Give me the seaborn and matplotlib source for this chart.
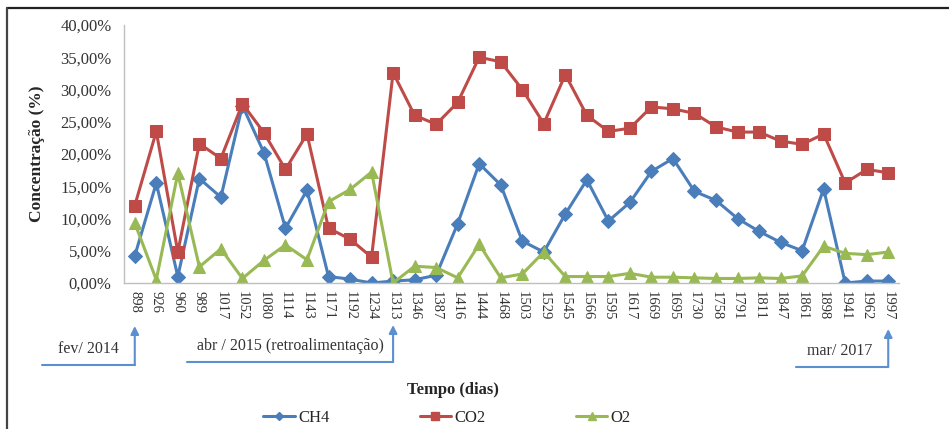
import matplotlib
matplotlib.use("Agg")
import matplotlib.pyplot as plt
import matplotlib.transforms as mtransforms
from matplotlib.lines import Line2D
import seaborn as sns
import pandas as pd
import numpy as np

days = ["898", "926", "960", "989", "1017", "1052", "1080", "1114", "1143", "1171",
        "1192", "1234", "1313", "1346", "1387", "1416", "1444", "1468", "1503", "1529",
        "1545", "1566", "1595", "1617", "1669", "1695", "1730", "1758", "1791", "1811",
        "1847", "1861", "1898", "1941", "1962", "1997"]

ch4 = [4.2, 15.5, 1.0, 16.2, 13.3, 27.5, 20.2, 8.5, 14.4, 1.0,
       0.6, 0.0, 0.3, 0.5, 1.2, 9.2, 18.5, 15.2, 6.5, 4.8,
       10.7, 16.0, 9.6, 12.5, 17.3, 19.3, 14.2, 12.8, 10.0, 8.0,
       6.3, 5.0, 14.6, 0.0, 0.3, 0.3]

co2 = [12.0, 23.5, 4.8, 21.6, 19.3, 27.8, 23.3, 17.6, 23.1, 8.5,
       6.8, 4.0, 32.6, 26.0, 24.6, 28.0, 35.0, 34.3, 30.0, 24.7,
       32.3, 26.0, 23.5, 24.0, 27.3, 27.0, 26.3, 24.2, 23.4, 23.4,
       22.0, 21.5, 23.1, 15.5, 17.6, 17.1]

o2 = [9.3, 0.5, 17.0, 2.5, 5.3, 0.7, 3.5, 5.9, 3.6, 12.6,
      14.5, 17.2, 0.0, 2.6, 2.4, 0.8, 6.0, 0.8, 1.4, 4.8,
      1.0, 1.0, 1.0, 1.5, 0.9, 0.9, 0.8, 0.7, 0.7, 0.8,
      0.7, 1.1, 5.7, 4.6, 4.4, 4.8]

yticks = [0, 5, 10, 15, 20, 25, 30, 35, 40]
ytick_labels = ["0,00%", "5,00%", "10,00%", "15,00%", "20,00%", "25,00%", "30,00%", "35,00%", "40,00%"]

annotations = [("fev/ 2014", "898"), ("abr / 2015 (retroalimentação)", "1313"), ("mar/ 2017", "1997")]

sns.set_theme(style="white")
plt.rcParams["font.family"] = ["Liberation Serif", "DejaVu Serif"]

series_names = ["CH4", "CO2", "O2"]
series_vals = [ch4, co2, o2]
colors = {"CH4": "#4A7EBB", "CO2": "#BE4B48", "O2": "#98B954"}
markers = {"CH4": "D", "CO2": "s", "O2": "^"}
msizes = {"CH4": 7, "CO2": 8, "O2": 8.5}

pos = np.arange(len(days))
df = pd.concat([pd.DataFrame({"pos": pos, "value": v, "gas": n})
                for n, v in zip(series_names, series_vals)], ignore_index=True)

fig = plt.figure(figsize=(9.49, 4.29), dpi=100)
ax = fig.add_axes([124 / 949, 1 - 283 / 429, (899 - 124) / 949, (283 - 25) / 429])

for n in series_names:
    sub = df[df["gas"] == n]
    sns.lineplot(data=sub, x="pos", y="value", ax=ax, color=colors[n], marker=markers[n],
                 markersize=msizes[n], markeredgecolor=colors[n], linewidth=2.2,
                 label=n, legend=False)

ax.set_xlim(-0.5, len(days) - 0.5)
ax.set_ylim(0, 40)
ax.set_yticks(yticks)
ax.set_yticklabels(ytick_labels, fontsize=12, color="#333333")
ax.set_xticks(pos)
ax.set_xticklabels(days, rotation=270, fontsize=10.5, color="#333333")
ax.tick_params(axis="both", length=3, width=0.8, color="#BFBFBF", pad=3)
ax.tick_params(axis="y", pad=6)
ax.set_xlabel("")
ax.set_ylabel("Concentração (%)", fontsize=12.5, fontweight="bold", labelpad=11)
for s in ["top", "right"]:
    ax.spines[s].set_visible(False)
for s in ["left", "bottom"]:
    ax.spines[s].set_color("#BFBFBF")
    ax.spines[s].set_linewidth(1.0)

fig.text(453 / 949, 1 - 390 / 429, "Tempo (dias)", fontsize=12, fontweight="bold",
         ha="center", va="center")

# annotation arrows (x from data, y in figure pixels)
trans = mtransforms.blended_transform_factory(ax.transData, fig.transFigure)
ann_geom = {"898": (42, 365, 326, 88, 349),
            "1313": (187, 362, 325, 290, 346),
            "1997": (796, 367, 329, 840, 351)}
arrow_color = "#5B8FD0"
for txt, day in annotations:
    idx = days.index(day)
    x0px, yline, ytop, xtxt, ytxt = ann_geom[day]
    x0 = ax.transData.inverted().transform((x0px, 0))[0]
    fy = lambda p: 1 - p / 429
    ax.plot([x0, idx], [fy(yline), fy(yline)], transform=trans, color=arrow_color,
            lw=1.5, clip_on=False)
    ax.annotate("", xy=(idx, fy(ytop)), xytext=(idx, fy(yline)), xycoords=trans,
                textcoords=trans,
                arrowprops=dict(arrowstyle="-|>", color=arrow_color, lw=1.5,
                                mutation_scale=12, shrinkA=0, shrinkB=0),
                annotation_clip=False)
    fig.text(xtxt / 949, fy(ytxt), txt, fontsize=11.5, ha="center", va="center",
             color="#333333")

# legend
handles = [Line2D([0], [0], color=colors[n], marker=markers[n], markersize=msizes[n] * 0.65,
                  lw=2.2) for n in series_names]
fig.legend(handles, series_names, loc="center", bbox_to_anchor=(447 / 949, 1 - 418 / 429),
           ncol=3, frameon=False, fontsize=12, handlelength=1.9, columnspacing=5.4,
           handletextpad=0.2)

# outer frame (top and left)
fig.add_artist(Line2D([7 / 949, 1], [1 - 8 / 429, 1 - 8 / 429], transform=fig.transFigure,
                      color="#222222", lw=1.6))
fig.add_artist(Line2D([7 / 949, 7 / 949], [0, 1 - 8 / 429], transform=fig.transFigure,
                      color="#444444", lw=1.6))

fig.savefig("out.png", dpi=100)
